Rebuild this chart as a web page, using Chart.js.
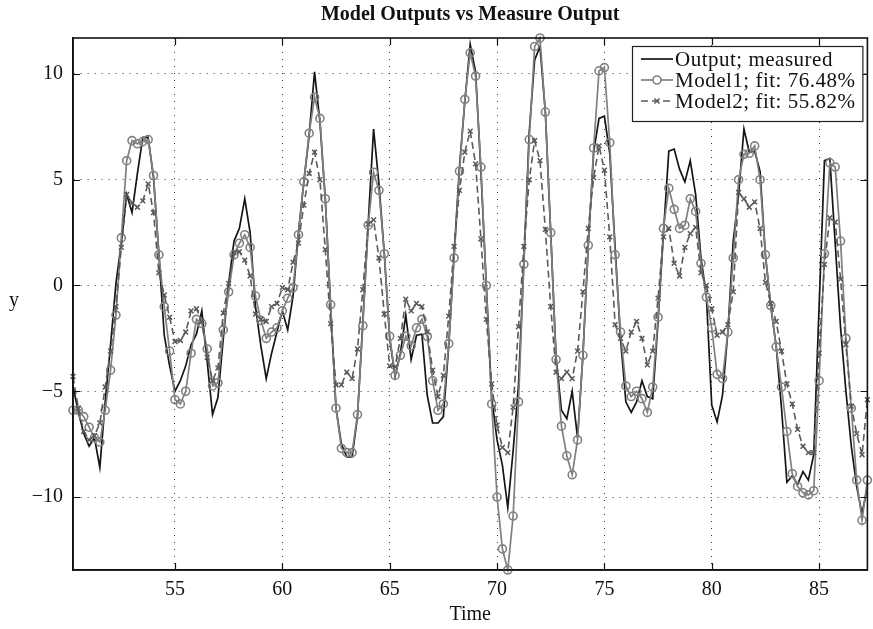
<!DOCTYPE html>
<html>
<head>
<meta charset="utf-8">
<script src="https://cdn.jsdelivr.net/npm/chart.js@4.4.1/dist/chart.umd.min.js"></script>
<style>
  html, body { margin: 0; padding: 0; background: #fff; }
</style>
</head>
<body>
<canvas id="chart" width="873" height="629"></canvas>
<script>
// sample grid: start time and sample interval of the data
const t0 = 50.25;
const Ts = 0.25;

// one row = one time unit (4 samples)
const measured = [
  -4.75, -6.0, -7.0, -7.6,
  -7.2, -8.6, -5.5, -2.8,
  0.1, 2.0, 4.3, 3.45,
  5.3, 7.0, 7.0, 5.1,
  1.5, -2.35, -3.8, -5.0,
  -4.5, -3.8, -2.8, -2.3,
  -1.2, -3.6, -6.1, -5.3,
  -2.5, 0.1, 2.1, 2.7,
  4.1, 2.5, -1.0, -2.85,
  -4.4, -3.2, -2.2, -1.2,
  -2.1, -0.5, 2.5, 4.9,
  7.1, 10.1, 7.75, 4.1,
  -1.0, -5.8, -7.5, -8.1,
  -8.1, -6.2, -1.7, 2.95,
  7.4, 4.8, 1.5, -2.5,
  -4.3, -3.2, -1.4, -3.5,
  -2.35, -2.3, -5.2, -6.5,
  -6.5, -6.2, -2.85, 1.45,
  5.6, 8.7, 11.4, 10.1,
  5.4, 0.0, -5.3, -7.3,
  -8.5, -10.5, -7.8, -4.7,
  1.1, 7.25, 10.65, 11.3,
  8.2, 2.5, -3.4, -5.9,
  -6.3, -5.0, -7.2, -3.3,
  1.9, 6.3, 7.9, 8.0,
  6.25, 1.8, -2.5, -5.5,
  -6.0, -5.5, -4.5, -5.25,
  -5.35, -1.7, 2.45, 6.35,
  6.45, 5.5, 4.9, 5.9,
  4.3, 1.3, -0.5, -5.65,
  -6.45, -5.2, -2.2, 2.1,
  4.3, 7.4, 6.3, 6.35,
  5.4, 1.45, -1.0, -2.85,
  -5.8, -9.3, -9.0, -9.4,
  -8.8, -9.2, -8.0, -1.0,
  5.9, 6.0, 2.0, -2.0,
  -5.0, -7.6, -9.5, -10.8,
  -9.5
];

const model1 = [
  -5.9, -5.9, -6.2, -6.7,
  -7.2, -7.4, -5.9, -4.0,
  -1.4, 2.25, 5.9, 6.85,
  6.7, 6.8, 6.9, 5.2,
  1.45, -1.0, -3.1, -5.4,
  -5.6, -5.0, -3.2, -1.6,
  -1.8, -3.0, -4.75, -4.6,
  -2.1, -0.3, 1.45, 2.0,
  2.4, 1.8, -0.5, -1.65,
  -2.5, -2.2, -2.0, -1.2,
  -0.6, -0.1, 2.4, 4.9,
  7.2, 8.9, 7.9, 4.1,
  -0.9, -5.8, -7.7, -7.9,
  -7.9, -6.1, -1.9, 2.85,
  5.35, 4.5, 1.5, -2.4,
  -4.25, -3.3, -2.4, -2.85,
  -2.0, -1.6, -2.4, -4.5,
  -5.9, -5.6, -2.75, 1.3,
  5.4, 8.8, 11.0, 9.9,
  5.6, 0.0, -5.6, -10.0,
  -12.45, -13.45, -10.9, -5.5,
  1.0, 6.9, 11.3, 11.7,
  8.2, 2.5, -3.5, -6.65,
  -8.05, -8.95, -7.3, -3.3,
  1.9, 6.5, 10.15, 10.3,
  6.75, 1.45, -2.2, -4.75,
  -5.25, -5.0, -5.35, -6.0,
  -4.8, -1.5, 2.7, 4.6,
  3.6, 2.7, 2.85, 4.1,
  3.5, 1.05, -0.55, -2.0,
  -4.2, -4.4, -2.2, 1.3,
  5.0, 6.2, 6.25, 6.6,
  5.0, 1.45, -0.95, -2.9,
  -4.8, -6.9, -8.9, -9.5,
  -9.8, -9.9, -9.7, -4.5,
  1.5, 5.8, 5.6, 2.1,
  -2.5, -5.8, -9.2, -11.1,
  -9.2
];

const model2 = [
  -4.3, -5.8, -6.9, -7.3,
  -7.1, -6.5, -4.8, -3.1,
  -1.0, 1.8, 4.3, 3.9,
  3.7, 4.0, 4.8, 3.45,
  0.6, -0.45, -1.5, -2.65,
  -2.6, -2.2, -1.2, -1.1,
  -1.7, -3.4, -4.5, -3.9,
  -1.3, 0.1, 1.55, 1.6,
  1.2, 0.45, -1.35, -1.6,
  -1.7, -1.0, -0.85, -0.1,
  -0.2, 1.1, 2.0, 3.8,
  5.3, 6.3, 5.0, 1.7,
  -1.8, -4.7, -4.7, -4.1,
  -4.4, -3.0, -0.2, 2.9,
  3.1, 1.3, -1.35, -3.8,
  -3.85, -2.5, -0.65, -1.2,
  -0.85, -1.0, -2.2, -4.0,
  -5.25, -4.25, -1.45, 1.85,
  4.5, 6.3, 7.3, 5.75,
  2.2, -1.6, -4.65, -6.6,
  -7.65, -7.9, -5.75, -1.95,
  1.85, 5.0, 6.85, 5.9,
  2.65, -1.0, -4.1, -4.4,
  -4.1, -4.4, -3.1, -0.3,
  2.7, 5.1, 6.6, 5.45,
  2.3, -1.85, -2.5, -3.1,
  -2.2, -1.7, -2.5, -3.75,
  -3.1, -0.6, 2.3, 2.7,
  1.05, 0.45, 1.8, 2.45,
  2.75, 0.6, 0.0, -1.1,
  -2.35, -2.2, -1.85, -0.3,
  4.4, 4.1, 3.7, 3.95,
  2.7, 0.15, -0.85, -1.7,
  -3.1, -4.65, -5.6, -6.8,
  -7.6, -7.9, -7.9, -3.2,
  1.0, 3.2, 3.0, 0.3,
  -2.8, -5.7, -7.0, -8.0,
  -5.4
];

const chartTitle = "Model Outputs vs Measure Output";
const seriesNames = ["Output; measured", "Model1; fit: 76.48%", "Model2; fit: 55.82%"];
const xTicks = [55, 60, 65, 70, 75, 80, 85];
const yTicks = [-10, -5, 0, 5, 10];

const FONT = '"Liberation Serif", "Times New Roman", serif';
const time = measured.map((_, i) => t0 + i * Ts);
const toXY = arr => arr.map((v, i) => ({ x: time[i], y: v }));
const allY = measured.concat(model1, model2);

// box around the axes, inward tick marks, title and horizontal y label
const framePlugin = {
  id: "frame",
  afterDatasetsDraw(chart) {
    const { ctx, chartArea: a, scales: { x, y } } = chart;
    ctx.save();
    ctx.strokeStyle = "#111";
    ctx.lineWidth = 1.6;
    ctx.strokeRect(a.left, a.top, a.right - a.left, a.bottom - a.top);
    ctx.lineWidth = 1.2;
    ctx.beginPath();
    xTicks.forEach(v => {
      const px = Math.round(x.getPixelForValue(v)) + 0.5;
      ctx.moveTo(px, a.bottom); ctx.lineTo(px, a.bottom - 7);
      ctx.moveTo(px, a.top); ctx.lineTo(px, a.top + 7);
    });
    yTicks.forEach(v => {
      const py = Math.round(y.getPixelForValue(v)) + 0.5;
      ctx.moveTo(a.left, py); ctx.lineTo(a.left + 7, py);
      ctx.moveTo(a.right, py); ctx.lineTo(a.right - 7, py);
    });
    ctx.stroke();

    ctx.fillStyle = "#111";
    ctx.textAlign = "center";
    ctx.textBaseline = "middle";
    ctx.font = "bold 20px " + FONT;
    ctx.fillText(chartTitle, (a.left + a.right) / 2, 15);
    ctx.font = "20px " + FONT;
    ctx.fillText("y", 14, y.getPixelForValue(0) + 15);
    ctx.restore();
  }
};

// legend box in the upper right corner with line + marker samples
const legendPlugin = {
  id: "boxLegend",
  afterDraw(chart) {
    const { ctx, chartArea: a } = chart;
    const bx = 632, by = 46, bw = a.right - 5 - bx, bh = 75;
    ctx.save();
    ctx.fillStyle = "#fff";
    ctx.fillRect(bx, by, bw, bh);
    ctx.strokeStyle = "#222";
    ctx.lineWidth = 1.2;
    ctx.strokeRect(bx + 0.5, by + 0.5, bw, bh);
    chart.data.datasets.forEach((ds, i) => {
      const cy = by + 13 + i * 21;
      ctx.strokeStyle = ds.borderColor;
      ctx.lineWidth = ds.borderWidth;
      ctx.setLineDash(ds.borderDash || []);
      ctx.beginPath();
      ctx.moveTo(bx + 9, cy); ctx.lineTo(bx + 41, cy);
      ctx.stroke();
      ctx.setLineDash([]);
      const mx = bx + 25;
      ctx.lineWidth = ds.pointBorderWidth || 1;
      if (ds.pointStyle === "circle" && ds.pointRadius > 0) {
        ctx.fillStyle = "#fff";
        ctx.beginPath();
        ctx.arc(mx, cy, ds.pointRadius, 0, Math.PI * 2);
        ctx.fill();
        ctx.stroke();
      } else if (ds.pointStyle === "crossRot") {
        const r = ds.pointRadius * 0.75;
        ctx.beginPath();
        ctx.moveTo(mx - r, cy - r); ctx.lineTo(mx + r, cy + r);
        ctx.moveTo(mx - r, cy + r); ctx.lineTo(mx + r, cy - r);
        ctx.stroke();
      }
      ctx.fillStyle = "#111";
      ctx.font = "21px " + FONT;
      ctx.letterSpacing = "0.5px";
      ctx.textAlign = "left";
      ctx.textBaseline = "middle";
      ctx.fillText(ds.label, bx + 43, cy + 1);
      ctx.letterSpacing = "0px";
    });
    ctx.restore();
  }
};

new Chart(document.getElementById("chart"), {
  type: "line",
  data: {
    datasets: [
      {
        label: seriesNames[0],
        data: toXY(measured),
        borderColor: "#151515",
        borderWidth: 1.7,
        pointRadius: 0,
        tension: 0,
        clip: false,
        order: 2
      },
      {
        label: seriesNames[1],
        data: toXY(model1),
        borderColor: "#808080",
        borderWidth: 1.7,
        pointStyle: "circle",
        pointRadius: 4,
        pointBorderWidth: 1.6,
        pointBorderColor: "#808080",
        pointBackgroundColor: "rgba(255,255,255,0)",
        tension: 0,
        clip: false,
        order: 1
      },
      {
        label: seriesNames[2],
        data: toXY(model2),
        borderColor: "#5a5a5a",
        borderWidth: 1.6,
        borderDash: [7, 4],
        pointStyle: "crossRot",
        pointRadius: 3.4,
        pointBorderWidth: 1.5,
        pointBorderColor: "#5a5a5a",
        tension: 0,
        clip: false,
        order: 0
      }
    ]
  },
  options: {
    responsive: false,
    animation: false,
    devicePixelRatio: 1,
    layout: { padding: { top: 38, right: 1, bottom: 0, left: 0 } },
    plugins: {
      legend: { display: false },
      tooltip: { enabled: false },
      title: { display: false }
    },
    scales: {
      x: {
        type: "linear",
        min: time[0],
        max: time[time.length - 1],
        afterBuildTicks: s => { s.ticks = xTicks.map(v => ({ value: v })); },
        afterFit: s => { s.height = 59; },
        ticks: {
          color: "#111",
          font: { family: FONT, size: 20 },
          padding: 8,
          maxRotation: 0,
          autoSkip: false
        },
        grid: { color: "#333", lineWidth: 1, drawTicks: false },
        border: { display: true, color: "#111", width: 1.6, dash: [1, 6] },
        title: {
          display: true,
          text: "Time",
          color: "#111",
          font: { family: FONT, size: 20 },
          padding: { top: 0, bottom: 2 }
        }
      },
      y: {
        type: "linear",
        min: Math.min(...allY),
        max: Math.max(...allY),
        afterBuildTicks: s => { s.ticks = yTicks.map(v => ({ value: v })); },
        afterFit: s => { s.width = 73; },
        ticks: {
          color: "#111",
          font: { family: FONT, size: 20 },
          padding: 10,
          callback: v => (v < 0 ? "\u2212" + Math.abs(v) : String(v))
        },
        grid: { color: "#333", lineWidth: 1, drawTicks: false },
        border: { display: true, color: "#111", width: 1.6, dash: [1, 6] }
      }
    }
  },
  plugins: [framePlugin, legendPlugin]
});
</script>
</body>
</html>
